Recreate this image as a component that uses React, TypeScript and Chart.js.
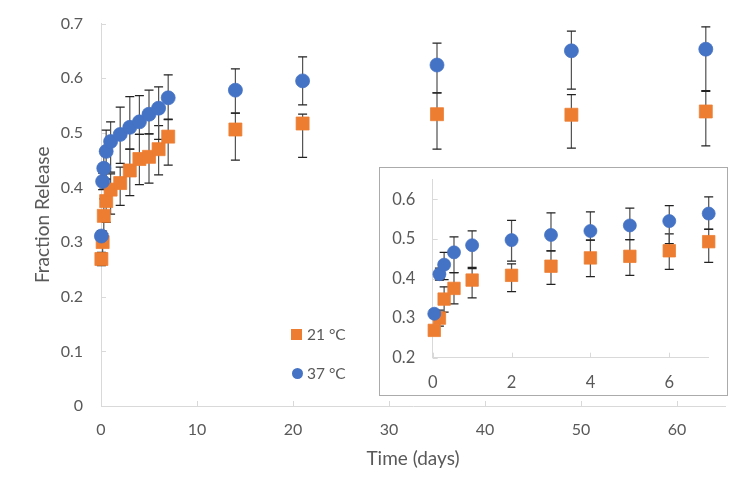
import { useEffect, useRef } from 'react';
import { Chart, registerables } from 'chart.js';

Chart.register(...registerables);

// time points (days)
const times = [0.04, 0.17, 0.29, 0.54, 1, 2, 3, 4, 5, 6, 7, 14, 21, 35, 49, 63];

// 21 °C
const release21 = [0.269, 0.3, 0.348, 0.375, 0.396, 0.408, 0.431, 0.452, 0.456, 0.47, 0.493, 0.506, 0.517, 0.534, 0.533, 0.539];
const plus21 = [0.012, 0.02, 0.031, 0.04, 0.029, 0.029, 0.039, 0.045, 0.042, 0.043, 0.031, 0.03, 0.017, 0.039, 0.037, 0.037];
const minus21 = [0.012, 0.02, 0.033, 0.039, 0.045, 0.041, 0.046, 0.047, 0.048, 0.047, 0.052, 0.056, 0.062, 0.064, 0.061, 0.063];

// 37 °C
const release37 = [0.311, 0.411, 0.435, 0.466, 0.484, 0.497, 0.51, 0.52, 0.534, 0.545, 0.564, 0.578, 0.595, 0.624, 0.65, 0.653];
const plus37 = [0.01, 0.015, 0.031, 0.039, 0.036, 0.05, 0.056, 0.048, 0.044, 0.039, 0.042, 0.039, 0.044, 0.04, 0.036, 0.041];
const minus37 = [0.01, 0.015, 0.038, 0.051, 0.056, 0.053, 0.04, 0.023, 0.036, 0.057, 0.039, 0.042, 0.044, 0.051, 0.07, 0.076];

const ORANGE = '#ED7D31';
const BLUE = '#4472C4';
const TEXT = '#595959';
const AXIS = '#D9D9D9';
const FONT = 'Lato, "Open Sans", sans-serif';

const points = (ys: number[], plus: number[], minus: number[], maxX: number) =>
  times
    .map((t, i) => ({ x: t, y: ys[i], plus: plus[i], minus: minus[i] }))
    .filter((p) => p.x <= maxX);

const errorBars = {
  id: 'errorBars',
  beforeDatasetsDraw(chart: any) {
    const { ctx, scales } = chart;
    const x = scales.x;
    const y = scales.y;
    ctx.save();
    ctx.lineWidth = 1.25;
    chart.data.datasets.forEach((ds: any) => {
      ds.data.forEach((p: any) => {
        const px = x.getPixelForValue(p.x);
        const top = y.getPixelForValue(p.y + p.plus);
        const bot = y.getPixelForValue(p.y - p.minus);
        ctx.strokeStyle = '#555555';
        ctx.beginPath();
        ctx.moveTo(px, top);
        ctx.lineTo(px, bot);
        ctx.stroke();
        ctx.strokeStyle = '#222222';
        ctx.beginPath();
        ctx.moveTo(px - 4.5, top);
        ctx.lineTo(px + 4.5, top);
        ctx.moveTo(px - 4.5, bot);
        ctx.lineTo(px + 4.5, bot);
        ctx.stroke();
      });
    });
    ctx.restore();
  },
};

const innerTicks = {
  id: 'innerTicks',
  beforeDatasetsDraw(chart: any) {
    const { ctx, chartArea, scales } = chart;
    ctx.save();
    ctx.strokeStyle = AXIS;
    ctx.lineWidth = 1;
    ctx.beginPath();
    scales.x.ticks.forEach((t: any) => {
      const px = Math.round(scales.x.getPixelForValue(t.value)) + 0.5;
      ctx.moveTo(px, chartArea.bottom);
      ctx.lineTo(px, chartArea.bottom - 5);
    });
    scales.y.ticks.forEach((t: any) => {
      const py = Math.round(scales.y.getPixelForValue(t.value)) + 0.5;
      ctx.moveTo(chartArea.left, py);
      ctx.lineTo(chartArea.left + 5, py);
    });
    ctx.stroke();
    ctx.restore();
  },
};

const makeDatasets = (maxX: number, small: boolean) => [
  {
    label: '21 °C',
    data: points(release21, plus21, minus21, maxX),
    pointStyle: 'rect',
    pointRadius: small ? 8.8 : 9.2,
    backgroundColor: ORANGE,
    borderColor: ORANGE,
    borderWidth: 0.75,
    showLine: false,
    clip: false,
    order: 1,
  },
  {
    label: '37 °C',
    data: points(release37, plus37, minus37, maxX),
    pointStyle: 'circle',
    pointRadius: small ? 6.5 : 7,
    backgroundColor: BLUE,
    borderColor: BLUE,
    borderWidth: 0.75,
    showLine: false,
    clip: false,
    order: 0,
  },
];

const fmt = (v: any) => (Number(v) === 0 ? '0' : Number(v).toFixed(1));

const noGrid = { display: false, drawTicks: false };

// fixed axis width; drop the tick-padding chart.js adds above/below a vertical axis
const fixY = (w: number) => (s: any) => {
  s.width = w;
  s.paddingTop = 0;
  s.paddingBottom = 0;
};

const ReleaseChart = () => {
  const mainRef = useRef<HTMLCanvasElement>(null);
  const insetRef = useRef<HTMLCanvasElement>(null);

  useEffect(() => {
    if (!mainRef.current || !insetRef.current) return;

    const main = new Chart(mainRef.current, {
      type: 'scatter',
      data: { datasets: makeDatasets(100, false) as any },
      options: {
        responsive: false,
        animation: false,
        layout: { autoPadding: false, padding: { top: 23.5, right: 23, left: 0, bottom: 0 } },
        plugins: { legend: { display: false }, tooltip: { enabled: false } },
        scales: {
          x: {
            type: 'linear',
            min: 0,
            max: 65,
            grid: noGrid,
            border: { color: AXIS },
            ticks: { stepSize: 10, includeBounds: false, padding: 14, color: TEXT, font: { family: FONT, size: 16 } },
            title: { display: true, text: 'Time (days)', color: TEXT, font: { family: FONT, size: 19 }, padding: { top: 32, bottom: 32 } },
            afterFit: (s: any) => { s.height = 96; },
          },
          y: {
            min: 0,
            max: 0.7,
            grid: noGrid,
            border: { color: AXIS },
            ticks: { stepSize: 0.1, padding: 18, color: TEXT, font: { family: FONT, size: 16 }, callback: fmt },
            title: { display: true, text: 'Fraction Release', color: TEXT, font: { family: FONT, size: 19 }, padding: { top: 31.5, bottom: 31.5 } },
            afterFit: fixY(101),
          },
        },
      },
      plugins: [innerTicks, errorBars],
    });

    const inset = new Chart(insetRef.current, {
      type: 'scatter',
      data: { datasets: makeDatasets(7, true) as any },
      options: {
        responsive: false,
        animation: false,
        layout: { autoPadding: false, padding: { top: 11.5, right: 18.3, left: 0, bottom: 0 } },
        plugins: { legend: { display: false }, tooltip: { enabled: false } },
        scales: {
          x: {
            type: 'linear',
            min: 0,
            max: 7,
            grid: noGrid,
            border: { color: AXIS },
            ticks: { stepSize: 2, includeBounds: false, padding: 15, color: TEXT, font: { family: FONT, size: 16.5 } },
            afterFit: (s: any) => { s.height = 37.3; },
          },
          y: {
            min: 0.2,
            max: 0.65,
            grid: noGrid,
            border: { color: AXIS },
            ticks: { stepSize: 0.1, includeBounds: false, padding: 17.5, color: TEXT, font: { family: FONT, size: 16.5 }, callback: fmt },
            afterFit: fixY(52.7),
          },
        },
      },
      plugins: [innerTicks, errorBars],
    });

    return () => {
      main.destroy();
      inset.destroy();
    };
  }, []);

  const legendText = { position: 'absolute' as const, left: 307, fontFamily: FONT, fontSize: 15.5, color: TEXT, lineHeight: '18px' };

  return (
    <div style={{ position: 'absolute', left: 0, top: 0, width: 748, height: 502, background: '#fff' }}>
      <canvas ref={mainRef} width={748} height={502} style={{ width: 748, height: 502 }} />
      <div style={{ position: 'absolute', left: 291, top: 329, width: 11, height: 11, background: ORANGE }} />
      <div style={{ ...legendText, top: 325 }}>21 °C</div>
      <div style={{ position: 'absolute', left: 292, top: 368, width: 11, height: 11, borderRadius: '50%', background: BLUE }} />
      <div style={{ ...legendText, top: 364 }}>37 °C</div>
      <div style={{ position: 'absolute', left: 378.5, top: 166.5, width: 347, height: 227, border: '1px solid #ABABAB', background: '#fff' }}>
        <canvas ref={insetRef} width={347} height={227} style={{ display: 'block', width: 347, height: 227 }} />
      </div>
    </div>
  );
};

export default function App() {
  return <ReleaseChart />;
}
